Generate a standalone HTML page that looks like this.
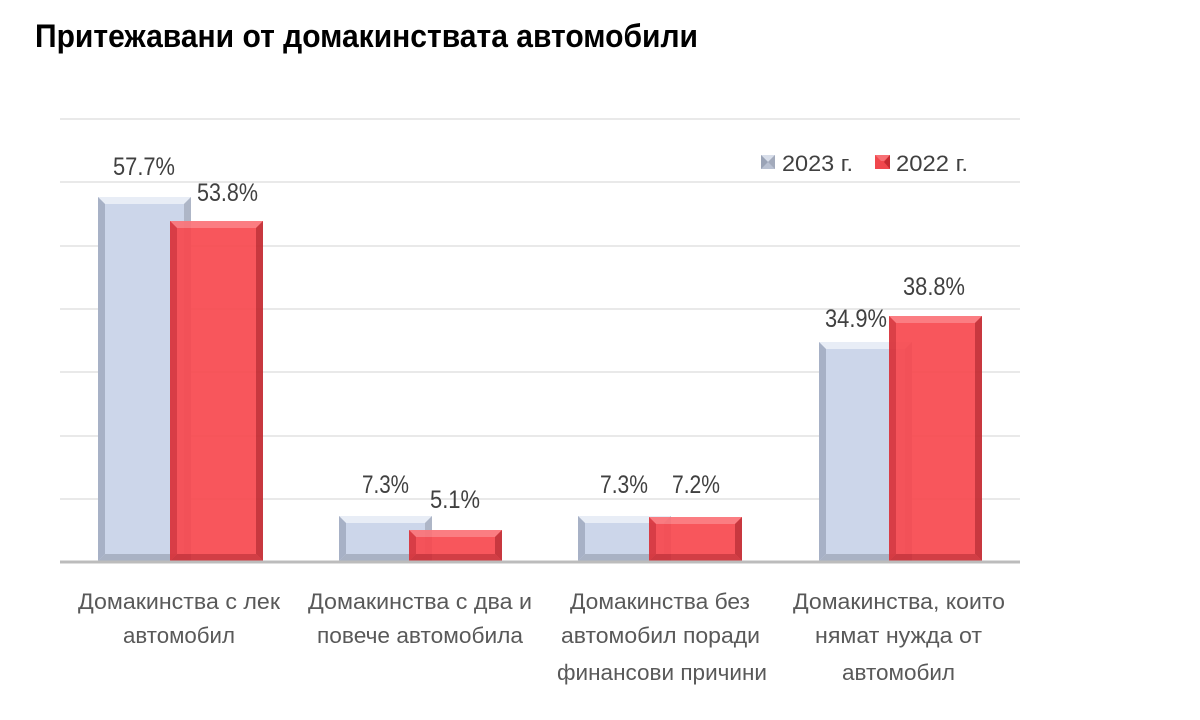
<!DOCTYPE html>
<html>
<head>
<meta charset="utf-8">
<style>
html,body{margin:0;padding:0;background:#fff;}
svg{display:block;}
text{font-family:"Liberation Sans","DejaVu Sans",sans-serif;}
</style>
</head>
<body>
<svg width="1200" height="720" viewBox="0 0 1200 720" xmlns="http://www.w3.org/2000/svg">
<rect width="1200" height="720" fill="#ffffff"/>
<!-- Title -->
<text x="35" y="47" font-size="32" font-weight="bold" fill="#000" textLength="663" lengthAdjust="spacingAndGlyphs">Притежавани от домакинствата автомобили</text>

<!-- gridlines -->
<g stroke="#e9e9e9" stroke-width="2">
<line x1="60" y1="119" x2="1020" y2="119"/>
<line x1="60" y1="182" x2="1020" y2="182"/>
<line x1="60" y1="246" x2="1020" y2="246"/>
<line x1="60" y1="309" x2="1020" y2="309"/>
<line x1="60" y1="372" x2="1020" y2="372"/>
<line x1="60" y1="436" x2="1020" y2="436"/>
<line x1="60" y1="499" x2="1020" y2="499"/>
</g>

<!-- Bars: blue (2023) -->
<defs>
<g id="dummy"></g>
</defs>

<!-- Group 1 -->
<g>
<rect x="98" y="197" width="93" height="364" fill="#ccd6ea"/>
<polygon points="98,197 191,197 184,204 105,204" fill="#e8edf6"/>
<polygon points="98,197 105,204 105,554 98,561" fill="#a7b1c6"/>
<polygon points="191,197 191,561 184,554 184,204" fill="#aeb6c7"/>
<polygon points="98,561 105,554 184,554 191,561" fill="#a9b2c4"/>
</g>
<g opacity="0.93">
<rect x="170" y="221" width="93" height="340" fill="#f84a50"/>
<polygon points="170,221 263,221 256,228 177,228" fill="#fb7479"/>
<polygon points="170,221 177,228 177,554 170,561" fill="#d9323a"/>
<polygon points="263,221 263,561 256,554 256,228" fill="#c42a31"/>
<polygon points="170,561 177,554 256,554 263,561" fill="#cf3038"/>
</g>

<!-- Group 2 -->
<g>
<rect x="339" y="516" width="93" height="45" fill="#ccd6ea"/>
<polygon points="339,516 432,516 425,523 346,523" fill="#e8edf6"/>
<polygon points="339,516 346,523 346,554 339,561" fill="#a7b1c6"/>
<polygon points="432,516 432,561 425,554 425,523" fill="#aeb6c7"/>
<polygon points="339,561 346,554 425,554 432,561" fill="#a9b2c4"/>
</g>
<g opacity="0.93">
<rect x="409" y="530" width="93" height="31" fill="#f84a50"/>
<polygon points="409,530 502,530 495,537 416,537" fill="#fb7479"/>
<polygon points="409,530 416,537 416,554 409,561" fill="#d9323a"/>
<polygon points="502,530 502,561 495,554 495,537" fill="#c42a31"/>
<polygon points="409,561 416,554 495,554 502,561" fill="#cf3038"/>
</g>

<!-- Group 3 -->
<g>
<rect x="578" y="516" width="93" height="45" fill="#ccd6ea"/>
<polygon points="578,516 671,516 664,523 585,523" fill="#e8edf6"/>
<polygon points="578,516 585,523 585,554 578,561" fill="#a7b1c6"/>
<polygon points="671,516 671,561 664,554 664,523" fill="#aeb6c7"/>
<polygon points="578,561 585,554 664,554 671,561" fill="#a9b2c4"/>
</g>
<g opacity="0.93">
<rect x="649" y="517" width="93" height="44" fill="#f84a50"/>
<polygon points="649,517 742,517 735,524 656,524" fill="#fb7479"/>
<polygon points="649,517 656,524 656,554 649,561" fill="#d9323a"/>
<polygon points="742,517 742,561 735,554 735,524" fill="#c42a31"/>
<polygon points="649,561 656,554 735,554 742,561" fill="#cf3038"/>
</g>

<!-- Group 4 -->
<g>
<rect x="819" y="342" width="93" height="219" fill="#ccd6ea"/>
<polygon points="819,342 912,342 905,349 826,349" fill="#e8edf6"/>
<polygon points="819,342 826,349 826,554 819,561" fill="#a7b1c6"/>
<polygon points="912,342 912,561 905,554 905,349" fill="#aeb6c7"/>
<polygon points="819,561 826,554 905,554 912,561" fill="#a9b2c4"/>
</g>
<g opacity="0.93">
<rect x="889" y="316" width="93" height="245" fill="#f84a50"/>
<polygon points="889,316 982,316 975,323 896,323" fill="#fb7479"/>
<polygon points="889,316 896,323 896,554 889,561" fill="#d9323a"/>
<polygon points="982,316 982,561 975,554 975,323" fill="#c42a31"/>
<polygon points="889,561 896,554 975,554 982,561" fill="#cf3038"/>
</g>

<!-- baseline -->
<line x1="60" y1="562" x2="1020" y2="562" stroke="#bcbcbc" stroke-width="3"/>

<!-- data labels -->
<g font-size="25" fill="#404040">
<text x="113" y="175" textLength="62" lengthAdjust="spacingAndGlyphs">57.7%</text>
<text x="197" y="201" textLength="61" lengthAdjust="spacingAndGlyphs">53.8%</text>
<text x="362" y="493" textLength="47" lengthAdjust="spacingAndGlyphs">7.3%</text>
<text x="430" y="508" textLength="50" lengthAdjust="spacingAndGlyphs">5.1%</text>
<text x="600" y="493" textLength="48" lengthAdjust="spacingAndGlyphs">7.3%</text>
<text x="672" y="493" textLength="48" lengthAdjust="spacingAndGlyphs">7.2%</text>
<text x="825" y="327" textLength="62" lengthAdjust="spacingAndGlyphs">34.9%</text>
<text x="903" y="295" textLength="62" lengthAdjust="spacingAndGlyphs">38.8%</text>
</g>

<!-- legend -->
<g>
<rect x="761" y="155" width="14" height="14" fill="#b9c1d2"/>
<polygon points="761,155 775,155 768,162" fill="#d8deea"/>
<polygon points="761,155 768,162 761,169" fill="#9aa3b6"/>
<polygon points="775,155 775,169 768,162" fill="#a2aabb"/>
<text x="782" y="171" font-size="22" fill="#404040" textLength="71" lengthAdjust="spacingAndGlyphs">2023 г.</text>
<rect x="875" y="155" width="15" height="14" fill="#f0474d"/>
<polygon points="875,155 890,155 884,161 881,161" fill="#f77075"/>
<polygon points="890,155 890,169 884,162" fill="#c42a31"/>
<text x="896" y="171" font-size="22" fill="#404040" textLength="72" lengthAdjust="spacingAndGlyphs">2022 г.</text>
</g>

<!-- category labels -->
<g font-size="22" fill="#595959">
<text x="78" y="609" textLength="202" lengthAdjust="spacingAndGlyphs">Домакинства  с лек</text>
<text x="123" y="643" textLength="112" lengthAdjust="spacingAndGlyphs">автомобил</text>

<text x="308" y="609" textLength="224" lengthAdjust="spacingAndGlyphs">Домакинства  с два и</text>
<text x="317" y="643" textLength="206" lengthAdjust="spacingAndGlyphs">повече  автомобила</text>

<text x="570" y="609" textLength="180" lengthAdjust="spacingAndGlyphs">Домакинства  без</text>
<text x="561" y="643" textLength="199" lengthAdjust="spacingAndGlyphs">автомобил  поради</text>
<text x="557" y="680" textLength="210" lengthAdjust="spacingAndGlyphs">финансови  причини</text>

<text x="793" y="609" textLength="212" lengthAdjust="spacingAndGlyphs">Домакинства,  които</text>
<text x="815" y="643" textLength="167" lengthAdjust="spacingAndGlyphs">нямат нужда от</text>
<text x="842" y="680" textLength="113" lengthAdjust="spacingAndGlyphs">автомобил</text>
</g>
</svg>
</body>
</html>
